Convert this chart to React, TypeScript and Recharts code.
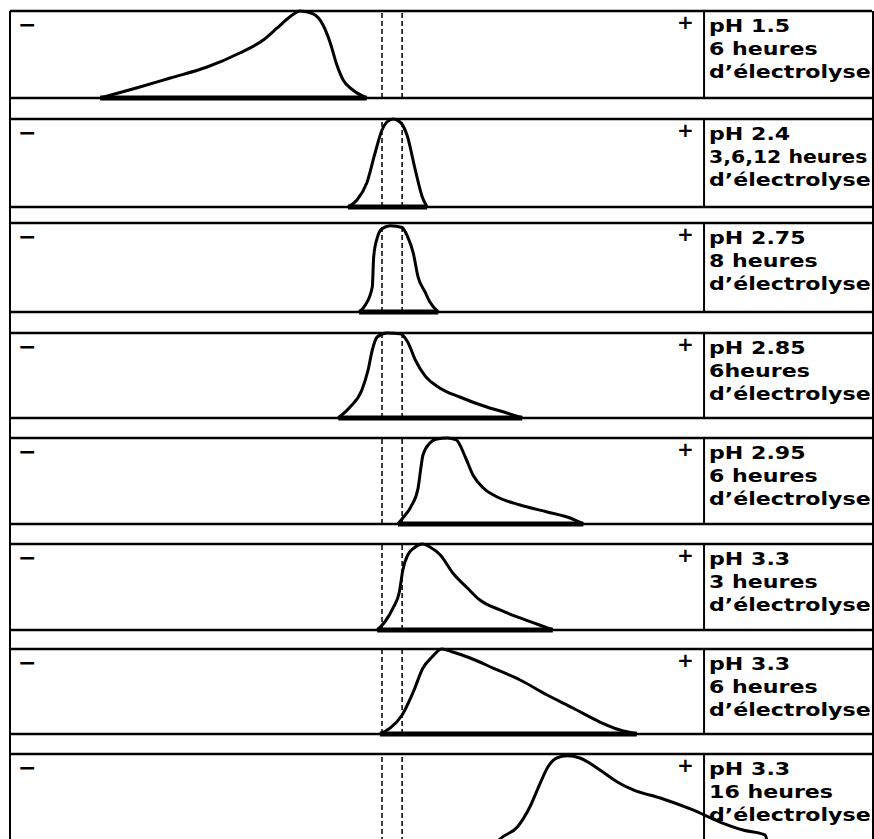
import { LineChart, Line, XAxis, YAxis, ReferenceLine } from "recharts";

// migration position along the strip (0 = cathode end, 100 = anode end "+")
// and relative intensity (0..100)
const ph15X = [13.0, 18.7, 23.1, 28.4, 33.1, 36.5, 38.5, 40.3, 41.8, 43.7, 45.1, 46.1, 47.1, 48.0, 49.4, 51.4];
const ph15Y = [0, 12.6, 23.0, 35.6, 51.7, 66.7, 80.5, 93.1, 100, 96.6, 83.9, 64.4, 37.9, 20.7, 9.2, 0];

const ph24X = [48.7, 50.0, 51.4, 52.6, 53.6, 54.3, 55.2, 56.2, 57.2, 58.4, 59.4, 60.1];
const ph24Y = [0, 8.0, 27.3, 61.4, 87.5, 96.6, 100, 96.6, 81.8, 42.0, 11.4, 0];

const ph275X = [50.3, 51.2, 52.2, 52.4, 52.9, 53.6, 54.8, 56.5, 57.3, 58.1, 58.8, 59.8, 60.5, 61.7];
const ph275Y = [0, 7.9, 28.1, 61.8, 83.1, 93.5, 97, 95, 84.3, 66.3, 39.3, 22.5, 11.2, 0];

const ph285X = [47.3, 49.0, 50.7, 51.6, 52.2, 52.9, 54.3, 56.2, 57.3, 58.4, 59.8, 61.8, 64.8, 68.7, 71.6, 73.8];
const ph285Y = [0, 12.9, 32.9, 56.5, 80.0, 95.3, 100, 99, 89.4, 68.2, 49.5, 36.0, 24.7, 12.9, 5.9, 0];

const ph295X = [55.9, 56.6, 57.9, 58.8, 59.2, 59.5, 60.5, 61.5, 63.0, 64.3, 65.6, 66.7, 68.2, 70.2, 73.5, 77.4, 80.7, 82.6];
const ph295Y = [0, 7.0, 22.1, 41.9, 65.1, 80.2, 94.2, 98.8, 100, 97.7, 77.9, 57.0, 41.9, 31.4, 22.1, 14.0, 7.0, 0];

const ph33aX = [52.9, 54.0, 55.2, 56.1, 56.6, 57.3, 58.4, 59.4, 60.5, 62.0, 63.8, 65.9, 67.7, 70.6, 73.5, 75.9, 78.2];
const ph33aY = [0, 9.3, 25.6, 44.2, 69.8, 87.2, 96.5, 100, 96.5, 87.2, 66.3, 48.8, 34.9, 23.3, 14.0, 7.0, 0];

const ph33bX = [53.3, 54.8, 56.5, 58.1, 59.5, 60.8, 62.2, 63.8, 66.3, 69.6, 73.5, 77.4, 81.1, 85.0, 87.9, 90.3];
const ph33bY = [0, 7.1, 22.4, 49.4, 77.6, 90.6, 100, 96.5, 89.4, 77.6, 63.5, 45.9, 30.6, 14.1, 4.7, 0];

const ph33cX = [70.2, 70.6, 73.1, 74.9, 76.4, 77.5, 78.8, 80.3, 82.1, 85.0, 87.5, 89.8, 93.7, 98.4, 102.3, 105.6, 108.8, 109.1];
const ph33cY = [0, 3.4, 17.0, 39.8, 67.0, 85.2, 95.5, 98, 95.5, 81.8, 68.2, 59.1, 50.0, 36.4, 22.7, 13.6, 8.0, 0];

const phLabels = ["pH 1.5", "pH 2.4", "pH 2.75", "pH 2.85", "pH 2.95", "pH 3.3", "pH 3.3", "pH 3.3"];
const durations = ["6 heures", "3,6,12 heures", "8 heures", "6heures", "6 heures", "3 heures", "6 heures", "16 heures"];
const suffix = "d’électrolyse";

// origin of the deposit (dashed lines)
const originLines = [53.6, 56.5];

const traces = [
  [ph15X, ph15Y],
  [ph24X, ph24Y],
  [ph275X, ph275Y],
  [ph285X, ph285Y],
  [ph295X, ph295Y],
  [ph33aX, ph33aY],
  [ph33bX, ph33bY],
  [ph33cX, ph33cY],
];

// layout of the strips on the page
const TOPS = [11, 119, 223, 333, 438, 544, 649, 754];
const BASES = [98, 207, 312, 418, 524, 630, 734, 842];
const LEFT = 10;
const WIDTH = 862;
const X_MAX = 124.2;
const PAD = 3;
const FONT = "'DejaVu Sans', sans-serif";

function LabelLine({ text }: { text: string }) {
  // the printed lettering is a wide geometric face; stretch to fit the box
  const scale = text.length > 10 && text.includes(",") ? 1.2 : 1.3;
  return (
    <div style={{ transform: `scaleX(${scale})`, transformOrigin: "left top", whiteSpace: "nowrap" }}>{text}</div>
  );
}

function Panel({ index }: { index: number }) {
  const [xs, ys] = traces[index];
  const data = xs.map((x, i) => ({ x, y: ys[i] }));
  const top = TOPS[index];
  const h = BASES[index] - top;
  const start = xs[0];
  const end = xs[xs.length - 1];

  return (
    <div style={{ position: "absolute", left: LEFT, top: top - PAD }}>
      <LineChart width={WIDTH} height={h + PAD * 2} data={data} margin={{ top: PAD, right: 0, bottom: PAD, left: 0 }}>
        <XAxis type="number" dataKey="x" domain={[0, X_MAX]} hide />
        <YAxis type="number" domain={[0, 100]} hide />
        <ReferenceLine y={100} stroke="#000" strokeWidth={2.5} />
        <ReferenceLine y={0} stroke="#000" strokeWidth={2.5} />
        <ReferenceLine x={100} stroke="#000" strokeWidth={2} />
        {originLines.map((x) => (
          <ReferenceLine key={x} x={x} stroke="#000" strokeWidth={1.5} strokeDasharray="5 3" />
        ))}
        <ReferenceLine
          segment={[{ x: start, y: 0 }, { x: end, y: 0 }]}
          stroke="#000"
          strokeWidth={5}
        />
        <Line
          type="monotone"
          dataKey="y"
          stroke="#000"
          strokeWidth={3}
          dot={false}
          isAnimationActive={false}
        />
      </LineChart>
      <div style={{ position: "absolute", left: 8, top: PAD + 6, fontFamily: FONT, fontWeight: "bold", fontSize: 22, lineHeight: "16px" }}>−</div>
      <div style={{ position: "absolute", left: 667, top: PAD + 3, fontFamily: FONT, fontWeight: "bold", fontSize: 20, lineHeight: "16px" }}>+</div>
      <div
        style={{
          position: "absolute",
          left: 699,
          top: PAD + 4,
          fontFamily: FONT,
          fontWeight: "bold",
          fontSize: 17,
          lineHeight: "23px",
        }}
      >
        <LabelLine text={phLabels[index]} />
        <LabelLine text={durations[index]} />
        <LabelLine text={suffix} />
      </div>
    </div>
  );
}

export default function App() {
  return (
    <div style={{ position: "absolute", left: 0, top: 0, width: 874, height: 839, overflow: "hidden", background: "#fff" }}>
      <div
        style={{
          position: "absolute",
          left: LEFT - 1,
          top: TOPS[0],
          width: WIDTH - 1,
          height: 839 - TOPS[0],
          borderLeft: "2px solid #000",
          borderRight: "2px solid #000",
        }}
      />
      {traces.map((_, i) => (
        <Panel key={i} index={i} />
      ))}
    </div>
  );
}
